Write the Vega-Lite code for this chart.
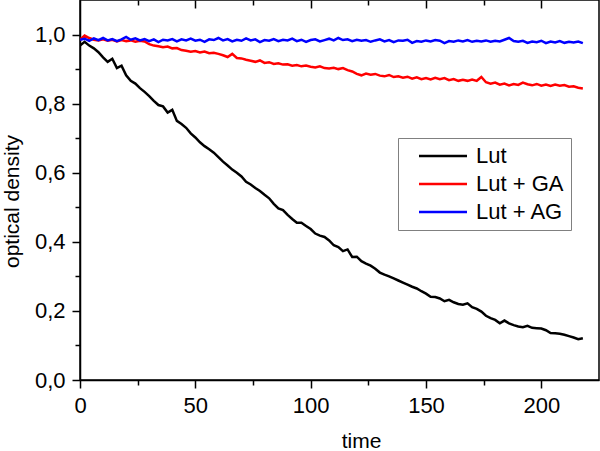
{
  "$schema": "https://vega.github.io/schema/vega-lite/v6.json",
  "width": 519,
  "height": 380,
  "autosize": {"type": "none"},
  "padding": {"left": 80, "top": 0, "right": 1, "bottom": 71},
  "background": "white",
  "config": {
    "font": "Liberation Sans",
    "view": {"stroke": "black", "strokeWidth": 1.5},
    "axis": {
      "grid": false,
      "domainColor": "black",
      "domainWidth": 1.5,
      "tickColor": "black",
      "tickWidth": 1.5,
      "labelColor": "black",
      "labelFontSize": 22,
      "labelFont": "Liberation Sans",
      "titleColor": "black",
      "titleFontSize": 21,
      "titleFont": "Liberation Sans",
      "titleFontWeight": "normal"
    },
    "legend": {
      "labelFont": "Liberation Sans"
    }
  },
  "data": {
    "values": [
      {"t": 0, "Lut": 0.968, "Lut + GA": 0.985, "Lut + AG": 0.985},
      {"t": 2, "Lut": 0.979, "Lut + GA": 0.997, "Lut + AG": 0.988},
      {"t": 4, "Lut": 0.968, "Lut + GA": 0.990, "Lut + AG": 0.982},
      {"t": 6, "Lut": 0.960, "Lut + GA": 0.985, "Lut + AG": 0.989},
      {"t": 8, "Lut": 0.949, "Lut + GA": 0.983, "Lut + AG": 0.984},
      {"t": 10, "Lut": 0.934, "Lut + GA": 0.986, "Lut + AG": 0.990},
      {"t": 12, "Lut": 0.921, "Lut + GA": 0.982, "Lut + AG": 0.983},
      {"t": 14, "Lut": 0.930, "Lut + GA": 0.985, "Lut + AG": 0.987},
      {"t": 16, "Lut": 0.903, "Lut + GA": 0.980, "Lut + AG": 0.981},
      {"t": 18, "Lut": 0.910, "Lut + GA": 0.984, "Lut + AG": 0.986},
      {"t": 20, "Lut": 0.882, "Lut + GA": 0.981, "Lut + AG": 0.993},
      {"t": 22, "Lut": 0.866, "Lut + GA": 0.983, "Lut + AG": 0.985},
      {"t": 24, "Lut": 0.858, "Lut + GA": 0.979, "Lut + AG": 0.989},
      {"t": 26, "Lut": 0.845, "Lut + GA": 0.982, "Lut + AG": 0.983},
      {"t": 28, "Lut": 0.834, "Lut + GA": 0.980, "Lut + AG": 0.987},
      {"t": 30, "Lut": 0.822, "Lut + GA": 0.972, "Lut + AG": 0.981},
      {"t": 32, "Lut": 0.808, "Lut + GA": 0.968, "Lut + AG": 0.986},
      {"t": 34, "Lut": 0.796, "Lut + GA": 0.966, "Lut + AG": 0.978},
      {"t": 36, "Lut": 0.792, "Lut + GA": 0.963, "Lut + AG": 0.985},
      {"t": 38, "Lut": 0.774, "Lut + GA": 0.965, "Lut + AG": 0.983},
      {"t": 40, "Lut": 0.782, "Lut + GA": 0.960, "Lut + AG": 0.987},
      {"t": 42, "Lut": 0.750, "Lut + GA": 0.961, "Lut + AG": 0.980},
      {"t": 44, "Lut": 0.741, "Lut + GA": 0.955, "Lut + AG": 0.986},
      {"t": 46, "Lut": 0.730, "Lut + GA": 0.953, "Lut + AG": 0.983},
      {"t": 48, "Lut": 0.714, "Lut + GA": 0.950, "Lut + AG": 0.988},
      {"t": 50, "Lut": 0.702, "Lut + GA": 0.952, "Lut + AG": 0.982},
      {"t": 52, "Lut": 0.688, "Lut + GA": 0.948, "Lut + AG": 0.985},
      {"t": 54, "Lut": 0.677, "Lut + GA": 0.951, "Lut + AG": 0.979},
      {"t": 56, "Lut": 0.668, "Lut + GA": 0.946, "Lut + AG": 0.986},
      {"t": 58, "Lut": 0.658, "Lut + GA": 0.947, "Lut + AG": 0.984},
      {"t": 60, "Lut": 0.645, "Lut + GA": 0.944, "Lut + AG": 0.990},
      {"t": 62, "Lut": 0.632, "Lut + GA": 0.940, "Lut + AG": 0.983},
      {"t": 64, "Lut": 0.621, "Lut + GA": 0.935, "Lut + AG": 0.987},
      {"t": 66, "Lut": 0.609, "Lut + GA": 0.944, "Lut + AG": 0.980},
      {"t": 68, "Lut": 0.600, "Lut + GA": 0.932, "Lut + AG": 0.985},
      {"t": 70, "Lut": 0.589, "Lut + GA": 0.931, "Lut + AG": 0.982},
      {"t": 72, "Lut": 0.574, "Lut + GA": 0.927, "Lut + AG": 0.989},
      {"t": 74, "Lut": 0.566, "Lut + GA": 0.924, "Lut + AG": 0.983},
      {"t": 76, "Lut": 0.556, "Lut + GA": 0.921, "Lut + AG": 0.986},
      {"t": 78, "Lut": 0.547, "Lut + GA": 0.925, "Lut + AG": 0.978},
      {"t": 80, "Lut": 0.536, "Lut + GA": 0.918, "Lut + AG": 0.984},
      {"t": 82, "Lut": 0.526, "Lut + GA": 0.920, "Lut + AG": 0.982},
      {"t": 84, "Lut": 0.510, "Lut + GA": 0.915, "Lut + AG": 0.987},
      {"t": 86, "Lut": 0.497, "Lut + GA": 0.917, "Lut + AG": 0.981},
      {"t": 88, "Lut": 0.492, "Lut + GA": 0.913, "Lut + AG": 0.985},
      {"t": 90, "Lut": 0.478, "Lut + GA": 0.914, "Lut + AG": 0.983},
      {"t": 92, "Lut": 0.466, "Lut + GA": 0.910, "Lut + AG": 0.988},
      {"t": 94, "Lut": 0.455, "Lut + GA": 0.912, "Lut + AG": 0.981},
      {"t": 96, "Lut": 0.455, "Lut + GA": 0.908, "Lut + AG": 0.985},
      {"t": 98, "Lut": 0.446, "Lut + GA": 0.910, "Lut + AG": 0.979},
      {"t": 100, "Lut": 0.437, "Lut + GA": 0.907, "Lut + AG": 0.984},
      {"t": 102, "Lut": 0.424, "Lut + GA": 0.905, "Lut + AG": 0.986},
      {"t": 104, "Lut": 0.418, "Lut + GA": 0.908, "Lut + AG": 0.980},
      {"t": 106, "Lut": 0.414, "Lut + GA": 0.903, "Lut + AG": 0.984},
      {"t": 108, "Lut": 0.404, "Lut + GA": 0.902, "Lut + AG": 0.988},
      {"t": 110, "Lut": 0.390, "Lut + GA": 0.904, "Lut + AG": 0.983},
      {"t": 112, "Lut": 0.385, "Lut + GA": 0.900, "Lut + AG": 0.990},
      {"t": 114, "Lut": 0.373, "Lut + GA": 0.903, "Lut + AG": 0.984},
      {"t": 116, "Lut": 0.378, "Lut + GA": 0.897, "Lut + AG": 0.986},
      {"t": 118, "Lut": 0.356, "Lut + GA": 0.893, "Lut + AG": 0.981},
      {"t": 120, "Lut": 0.357, "Lut + GA": 0.886, "Lut + AG": 0.985},
      {"t": 122, "Lut": 0.344, "Lut + GA": 0.882, "Lut + AG": 0.982},
      {"t": 124, "Lut": 0.337, "Lut + GA": 0.887, "Lut + AG": 0.984},
      {"t": 126, "Lut": 0.331, "Lut + GA": 0.884, "Lut + AG": 0.979},
      {"t": 128, "Lut": 0.322, "Lut + GA": 0.886, "Lut + AG": 0.983},
      {"t": 130, "Lut": 0.311, "Lut + GA": 0.881, "Lut + AG": 0.986},
      {"t": 132, "Lut": 0.305, "Lut + GA": 0.879, "Lut + AG": 0.980},
      {"t": 134, "Lut": 0.300, "Lut + GA": 0.883, "Lut + AG": 0.984},
      {"t": 136, "Lut": 0.294, "Lut + GA": 0.877, "Lut + AG": 0.978},
      {"t": 138, "Lut": 0.288, "Lut + GA": 0.879, "Lut + AG": 0.983},
      {"t": 140, "Lut": 0.282, "Lut + GA": 0.875, "Lut + AG": 0.982},
      {"t": 142, "Lut": 0.276, "Lut + GA": 0.878, "Lut + AG": 0.985},
      {"t": 144, "Lut": 0.270, "Lut + GA": 0.872, "Lut + AG": 0.976},
      {"t": 146, "Lut": 0.265, "Lut + GA": 0.876, "Lut + AG": 0.981},
      {"t": 148, "Lut": 0.257, "Lut + GA": 0.871, "Lut + AG": 0.979},
      {"t": 150, "Lut": 0.250, "Lut + GA": 0.874, "Lut + AG": 0.983},
      {"t": 152, "Lut": 0.241, "Lut + GA": 0.870, "Lut + AG": 0.980},
      {"t": 154, "Lut": 0.240, "Lut + GA": 0.875, "Lut + AG": 0.984},
      {"t": 156, "Lut": 0.236, "Lut + GA": 0.871, "Lut + AG": 0.982},
      {"t": 158, "Lut": 0.228, "Lut + GA": 0.874, "Lut + AG": 0.975},
      {"t": 160, "Lut": 0.232, "Lut + GA": 0.868, "Lut + AG": 0.981},
      {"t": 162, "Lut": 0.225, "Lut + GA": 0.871, "Lut + AG": 0.979},
      {"t": 164, "Lut": 0.220, "Lut + GA": 0.866, "Lut + AG": 0.983},
      {"t": 166, "Lut": 0.218, "Lut + GA": 0.869, "Lut + AG": 0.980},
      {"t": 168, "Lut": 0.222, "Lut + GA": 0.866, "Lut + AG": 0.984},
      {"t": 170, "Lut": 0.211, "Lut + GA": 0.870, "Lut + AG": 0.979},
      {"t": 172, "Lut": 0.206, "Lut + GA": 0.866, "Lut + AG": 0.982},
      {"t": 174, "Lut": 0.198, "Lut + GA": 0.877, "Lut + AG": 0.980},
      {"t": 176, "Lut": 0.186, "Lut + GA": 0.862, "Lut + AG": 0.983},
      {"t": 178, "Lut": 0.179, "Lut + GA": 0.858, "Lut + AG": 0.979},
      {"t": 180, "Lut": 0.174, "Lut + GA": 0.861, "Lut + AG": 0.982},
      {"t": 182, "Lut": 0.164, "Lut + GA": 0.855, "Lut + AG": 0.980},
      {"t": 184, "Lut": 0.172, "Lut + GA": 0.858, "Lut + AG": 0.985},
      {"t": 186, "Lut": 0.164, "Lut + GA": 0.853, "Lut + AG": 0.990},
      {"t": 188, "Lut": 0.159, "Lut + GA": 0.857, "Lut + AG": 0.981},
      {"t": 190, "Lut": 0.155, "Lut + GA": 0.854, "Lut + AG": 0.979},
      {"t": 192, "Lut": 0.153, "Lut + GA": 0.861, "Lut + AG": 0.982},
      {"t": 194, "Lut": 0.157, "Lut + GA": 0.856, "Lut + AG": 0.976},
      {"t": 196, "Lut": 0.151, "Lut + GA": 0.853, "Lut + AG": 0.980},
      {"t": 198, "Lut": 0.150, "Lut + GA": 0.857, "Lut + AG": 0.978},
      {"t": 200, "Lut": 0.149, "Lut + GA": 0.852, "Lut + AG": 0.982},
      {"t": 202, "Lut": 0.144, "Lut + GA": 0.855, "Lut + AG": 0.975},
      {"t": 204, "Lut": 0.136, "Lut + GA": 0.851, "Lut + AG": 0.980},
      {"t": 206, "Lut": 0.135, "Lut + GA": 0.855, "Lut + AG": 0.977},
      {"t": 208, "Lut": 0.134, "Lut + GA": 0.852, "Lut + AG": 0.981},
      {"t": 210, "Lut": 0.131, "Lut + GA": 0.854, "Lut + AG": 0.976},
      {"t": 212, "Lut": 0.127, "Lut + GA": 0.849, "Lut + AG": 0.979},
      {"t": 214, "Lut": 0.123, "Lut + GA": 0.850, "Lut + AG": 0.977},
      {"t": 216, "Lut": 0.118, "Lut + GA": 0.846, "Lut + AG": 0.980},
      {"t": 218, "Lut": 0.121, "Lut + GA": 0.844, "Lut + AG": 0.975}
    ]
  },
  "transform": [{"fold": ["Lut", "Lut + GA", "Lut + AG"], "as": ["series", "v"]}],
  "layer": [
    {
      "mark": {"type": "line", "strokeWidth": 2.5, "clip": true},
      "encoding": {
        "x": {
          "field": "t", "type": "quantitative",
          "scale": {"domain": [0, 225], "nice": false, "zero": false},
          "axis": {
            "orient": "bottom", "values": [0, 50, 100, 150, 200], "tickSize": 8,
            "labelPadding": 7, "title": "time", "titleX": 281, "titleY": 67,
            "titleBaseline": "alphabetic", "titleAlign": "center", "labelFlush": false
          }
        },
        "y": {
          "field": "v", "type": "quantitative",
          "scale": {"domain": [0, 1.1], "nice": false, "zero": false},
          "axis": {
            "orient": "left", "values": [0, 0.2, 0.4, 0.6, 0.8, 1.0], "tickSize": 8,
            "labelPadding": 7,
            "labelExpr": "replace(format(datum.value, '.1f'), '.', ',')",
            "title": "optical density", "titleX": -62, "titleY": 201,
            "titleAngle": -90, "titleBaseline": "alphabetic", "titleAlign": "center"
          }
        },
        "color": {
          "field": "series", "type": "nominal",
          "scale": {"domain": ["Lut", "Lut + GA", "Lut + AG"], "range": ["#000000", "#ff0000", "#0000ff"]},
          "legend": {
            "title": null,
            "orient": "none",
            "legendX": 318,
            "legendY": 138,
            "strokeColor": "#808080",
            "fillColor": "white",
            "padding": 7,
            "symbolType": "M-1,0H7",
            "symbolSize": 144,
            "symbolStrokeWidth": 2.5,
            "symbolOffset": 9,
            "labelOffset": 40,
            "labelFontSize": 22,
            "labelColor": "black",
            "rowPadding": 6
          }
        }
      }
    },
    {
      "mark": {"type": "line", "opacity": 0},
      "encoding": {
        "x": {"field": "t", "type": "quantitative",
          "axis": {"orient": "bottom", "values": [25, 75, 125, 175], "tickSize": 5, "labels": false, "domain": false, "title": null}},
        "y": {"field": "v", "type": "quantitative",
          "axis": {"orient": "left", "values": [0.1, 0.3, 0.5, 0.7, 0.9], "tickSize": 5, "labels": false, "domain": false, "title": null}}
      }
    },
    {
      "mark": {"type": "line", "opacity": 0},
      "encoding": {
        "x": {"field": "t", "type": "quantitative",
          "axis": {"orient": "top", "values": [50, 100, 150, 200], "tickSize": -8, "labels": false, "domain": false, "title": null}},
        "y": {"field": "v", "type": "quantitative", "axis": null}
      }
    },
    {
      "mark": {"type": "line", "opacity": 0},
      "encoding": {
        "x": {"field": "t", "type": "quantitative",
          "axis": {"orient": "top", "values": [25, 75, 125, 175], "tickSize": -5, "labels": false, "domain": false, "title": null}},
        "y": {"field": "v", "type": "quantitative", "axis": null}
      }
    }
  ],
  "resolve": {"axis": {"x": "independent", "y": "independent"}}
}
